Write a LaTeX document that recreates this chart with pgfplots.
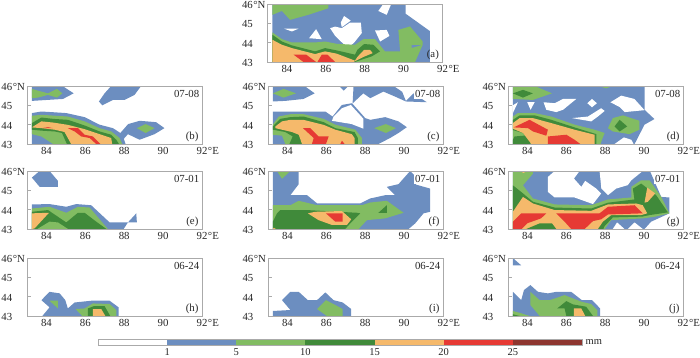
\documentclass[border=0pt]{standalone}
\usepackage{pgfplots}
\pgfplotsset{compat=1.18}
\usepackage{fontspec}
\setmainfont{Liberation Serif}
\definecolor{cB}{RGB}{108,142,192}
\definecolor{cG}{RGB}{130,188,98}
\definecolor{cD}{RGB}{64,138,58}
\definecolor{cO}{RGB}{245,185,107}
\definecolor{cR}{RGB}{230,58,52}
\definecolor{cM}{RGB}{142,54,48}
\definecolor{cF}{RGB}{170,170,170}
\newcommand\poly[2]{\addplot[fill=#1,draw=none,forget plot] coordinates {#2} --cycle;}
\newcommand\dlabel[2]{%
  \node[anchor=east,fill=white,inner sep=0.8pt,font=\fontsize{10.8}{12}\selectfont,text=black!85] at (rel axis cs:0.99,0.86) {#1};
  \node[anchor=east,fill=white,inner sep=0.8pt,font=\fontsize{10.8}{12}\selectfont,text=black!85] at (rel axis cs:0.985,0.13) {#2};}
\pgfplotsset{panel/.style={
  scale only axis,width=175pt,height=58pt,anchor=south west,
  xmin=83,xmax=92,ymin=43,ymax=46,
  xtick={84,86,88,90,92},xticklabels={84,86,88,90,{92\rlap{\kern0.6pt °E}}},
  ytick={43,44,45,46},yticklabels={43,44,45,{46\rlap{\kern0.6pt °N}}},
  y tick style={cF,line width=0.6pt},x tick style={draw=none},tick align=inside,major tick length=3.5pt,
  axis line style={cF,line width=1pt},
  xtick pos=lower,ytick pos=left,axis on top,
  tick label style={font=\fontsize{10.8}{12}\selectfont,text=black!85},
  /pgf/number format/assume math mode=true,
  xticklabel style={inner sep=0pt,yshift=-3.5pt},
  yticklabel style={inner sep=0pt,anchor=east,xshift=-14.5pt,yshift=-1pt},
}}
\begin{document}
\begin{tikzpicture}
\path[use as bounding box] (0,0) rectangle (700pt,357pt);
% (a)
\begin{axis}[panel,at={(267.5pt,295pt)}]
\poly{cB}{(83.25,43)(83.25,46)(90.1,46)(90.1,45.5)(91.35,44.6)(91.35,43)}
\poly{white}{(88.7,45.64)(88.92,45.95)(89.34,45.95)(89.13,45.44)}
\poly{white}{(86.77,45.04)(86.94,45.38)(87.28,45.14)(86.82,44.8)}
\poly{white}{(86.22,44.75)(86.48,44.83)(86.82,44.75)(87.25,45.04)(87.8,45.04)(87.85,44.5)(87.5,44.06)(87.16,43.72)(86.73,44.1)(86.48,44.35)}
\poly{white}{(85.14,44.23)(85.5,44.7)(85.79,44.18)}
\poly{white}{(88.53,44.63)(89.13,44.66)(89.27,44.35)(88.79,44.06)}
\poly{white}{(83.87,44.72)(84.59,44.72)(84.25,44.58)}
\poly{cG}{(83.25,46)(86.13,46)(86.13,45.78)(85.1,45.44)(84.16,45.18)(83.74,45.64)(83.25,45.44)}
\poly{cG}{(83.25,44.53)(83.74,44.18)(84.25,44.01)(85.45,44.01)(85.96,44.06)(86.56,43.94)(87.5,43.89)(87.93,44.18)(88.53,44.18)(89.04,43.55)(89.82,43.55)(89.73,44.66)(90.33,44.84)(90.98,44.06)(90.98,43.89)(90.41,43.89)(90.41,43.72)(90.98,43.89)(90.59,43)(83.25,43)}
\poly{cD}{(83.25,44.41)(83.74,44.06)(84.25,43.86)(85.45,43.55)(85.96,43.72)(86.56,43.6)(87.5,43.38)(87.62,43.63)(87.97,43.93)(88.45,43.89)(88.79,43.55)(88.36,43.29)(87.93,43.15)(87.5,43)(83.25,43)}
\poly{cO}{(83.25,44.15)(83.74,43.89)(84.25,43.72)(85.45,43.41)(85.96,43.55)(86.56,43.43)(87.5,43.07)(87.62,43.26)(87.97,43.63)(88.27,43.63)(88.41,43.46)(87.93,43.26)(87.42,43)(83.25,43)}
\poly{cR}{(84.34,43.38)(84.99,43.38)(85.5,43)(84.85,43)}
\poly{cR}{(85.57,43)(85.79,43.38)(86.08,43.38)(86.48,43)}
\node[anchor=east,inner sep=0.8pt,font=\fontsize{10.8}{12}\selectfont,text=black!85] at (rel axis cs:0.985,0.13) {(a)};
\end{axis}
% (b)
\begin{axis}[panel,at={(27pt,213pt)}]
\poly{cB}{(83.25,46)(84.83,46)(85.4,45.62)(84.85,45.33)(83.25,45.23)}
\poly{cG}{(83.25,45.85)(83.56,45.76)(84.08,45.62)(84.54,45.85)(84.82,45.62)(84.54,45.4)(84.08,45.54)(83.56,45.4)(83.25,45.37)}
\poly{cB}{(87.33,46)(88.87,46)(88.53,45.54)(88.02,45.28)(87.42,45.28)(86.87,45)(86.7,45.2)(86.99,45.62)}
\poly{cB}{(83.25,44.6)(83.74,44.68)(84.25,44.65)(85.02,44.6)(85.96,44.39)(86.73,44)(87.42,43.82)(87.8,43.57)(88.2,44.03)(88.79,44.2)(89.64,44.13)(90.07,43.82)(89.56,43.51)(88.79,43.22)(88.19,43.51)(87.98,43.27)(88.07,43)(83.25,43)}
\poly{cG}{(88.65,43.82)(89.1,44.03)(89.56,43.82)(89.1,43.57)}
\poly{cG}{(83.25,44.46)(83.74,44.51)(84.34,44.47)(85.1,44.42)(85.96,44.17)(86.73,43.82)(87.33,43.65)(87.76,43.31)(87.9,43)(84.34,43)(83.74,43.39)(83.25,43.51)}
\poly{cD}{(83.25,44.08)(83.74,44.37)(84.34,44.3)(85.1,44.25)(85.96,43.96)(86.73,43.65)(87.33,43.48)(87.59,43.22)(87.73,43)(85.05,43)(84.8,43.57)(84.42,43.65)(83.74,43.69)(83.25,43.74)}
\poly{cO}{(83.25,43.86)(83.74,44.17)(84.34,44.11)(85.1,43.99)(85.96,43.77)(86.73,43.51)(87.33,43.31)(87.38,43)(85.27,43)(84.93,43.62)(84.42,43.74)(83.74,43.82)}
\poly{cR}{(83.77,43.82)(84.08,43.87)(84.34,43.82)}
\poly{cR}{(85.1,43.82)(85.62,43.82)(85.96,43.48)(86.39,43.39)(86.78,43)(86.56,43)(86.22,43.31)(85.79,43.39)(85.45,43.65)}
\dlabel{07-08}{(b)}
\end{axis}
% (c)
\begin{axis}[panel,at={(268pt,213pt)}]
\poly{cB}{(83.25,46)(84.88,46)(85.4,45.62)(84.83,45.33)(83.89,45.23)(83.25,45.2)}
\poly{cG}{(83.25,45.62)(83.8,45.85)(84.44,45.62)(83.8,45.4)}
\poly{cB}{(86.66,46)(87.14,46)(86.89,45.76)}
\poly{cB}{(87.4,46)(89.46,46)(89.9,45.7)(90.09,45.23)(90.48,45.62)(91.17,45.16)(90.09,45.2)(89.54,45.45)(88.94,45.71)(88.26,45.37)(87.9,45.62)(87.35,45.1)}
\poly{cB}{(83.25,44.68)(85.95,44.68)(86.32,44.42)(86.8,45.02)(87.32,45.11)(88,44.34)(88.26,44.25)(89.03,44.39)(89.71,44.17)(90.14,43.87)(89.71,43.57)(89.28,43.31)(88.68,43)(83.25,43)}
\poly{white}{(86.37,44.42)(86.8,44.85)(87.26,45.02)(87.91,44.3)(87.91,43.79)(87.31,44.03)(86.29,44.2)}
\poly{cG}{(88.46,43.82)(89.06,44.03)(89.58,43.82)(89.06,43.57)}
\poly{cG}{(83.25,44)(83.55,44.42)(84.15,44.54)(84.83,44.54)(85.86,44.3)(86.46,44)(87.49,43.74)(87.83,43.31)(87.83,43)(83.89,43)(83.72,43.43)(83.25,43.48)}
\poly{cD}{(83.25,43.91)(83.63,44.3)(84.15,44.39)(84.83,44.42)(85.86,44.13)(86.46,43.82)(87.45,43.62)(87.62,43.31)(87.62,43)(84.1,43)(84.27,43.39)(83.89,43.62)(83.25,43.74)}
\poly{cO}{(83.38,43.91)(83.72,44.17)(84.15,44.25)(84.83,44.25)(85.86,43.99)(86.46,43.74)(87.31,43.51)(87.45,43.31)(87.45,43)(84.75,43)(84.58,43.48)(84.23,43.62)(83.38,43.82)}
\poly{cR}{(84.8,43.82)(85.17,43.82)(85.6,43.39)(86.12,43.39)(85.98,43)(85.26,43)(85.35,43.31)}
\poly{cR}{(86.72,43)(86.8,43.17)(86.94,43)}
\dlabel{07-08}{(c)}
\end{axis}
% (d)
\begin{axis}[panel,at={(508pt,213pt)}]
\poly{cB}{(83.25,46)(90.02,46)(90.02,44.77)(90.53,44.29)(90.02,44)(89.51,43)(83.25,43)}
\poly{white}{(88.48,43)(88.96,43.34)(89.34,43.22)(89.46,43)}
\poly{white}{(83.25,45)(83.51,45.16)(83.25,44.6)}
\poly{white}{(83.99,45.16)(84.37,45.16)(84.16,44.77)}
\poly{white}{(84.83,45.16)(85.4,45.11)(85.83,45.33)(86.51,45.33)(85.83,44.77)(85.48,44.65)(84.97,44.77)}
\poly{white}{(87.08,45.11)(87.32,45.33)(87.57,45.11)(87.32,44.9)}
\poly{white}{(88.27,45.16)(88.82,45.5)(89.5,45.33)(90.02,44.75)(89,44.65)(88.76,44.9)}
\poly{white}{(86.29,44.34)(87.11,44.42)(87.79,44.85)(87.97,44.71)(87.62,44.42)(87.28,44.17)}
\poly{cG}{(87.62,46)(88.39,46)(88.05,45.88)}
\poly{cG}{(83.25,46)(84.37,46)(85.26,45.62)(84.28,45.28)(83.51,45.32)(83.25,45.33)}
\poly{cD}{(83.25,45.62)(83.77,45.8)(84.28,45.62)(83.77,45.4)}
\poly{cG}{(88.14,43.82)(88.39,44.34)(88.91,44.48)(89.76,44.2)(89.76,43.74)(89.25,43.51)(88.39,43.65)}
\poly{cD}{(88.48,43.91)(88.74,44.25)(89.13,43.91)(88.74,43.65)}
\poly{cG}{(83.25,44.42)(83.51,44.6)(84.37,44.6)(85.23,44.42)(86.42,44)(87.45,43.74)(87.97,43.57)(87.83,43.22)(87.76,43)(83.25,43)}
\poly{cD}{(83.25,44.25)(83.6,44.48)(84.37,44.48)(85.23,44.25)(86.42,43.86)(87.54,43.51)(87.54,43)(84.2,43)(83.77,43.57)(83.25,43.72)}
\poly{cD}{(83.34,43.39)(84.03,43.45)(84.16,43)(83.25,43)(83.25,43.22)}
\poly{cO}{(83.25,44.08)(83.6,44.34)(84.28,44.34)(85.23,44.08)(86.42,43.74)(87.45,43.48)(87.45,43)(84.2,43)(83.77,43.57)(83.25,43.79)}
\poly{cR}{(83.29,43.86)(84.11,44.25)(85.05,43.74)(84.97,43.43)(84.28,43.65)(84.03,43.82)}
\poly{cR}{(85.05,43)(85.05,43.39)(86,43.48)(86.42,43.22)(86.72,43)}
\dlabel{07-08}{(d)}
\end{axis}
% (e)
\begin{axis}[panel,at={(27pt,128pt)}]
\poly{cB}{(83.25,45.66)(83.65,46)(84.16,46)(84.59,45.49)(84.59,45.18)(83.65,45.18)}
\poly{cB}{(83.25,44.27)(84.16,44.29)(85.02,44.15)(85.53,44.29)(86.3,44.23)(87.25,43.34)(88.19,43.34)(88.62,43.81)(88.65,43.34)(88.19,43.34)(87.97,43)(83.25,43)}
\poly{cG}{(83.25,44.06)(84.16,44.15)(85.02,43.84)(85.62,44.15)(86.22,44.11)(87.16,43)(83.25,43)}
\poly{cD}{(83.25,43.89)(84.08,43.98)(85.02,43.34)(85.62,43.84)(85.96,43.84)(86.56,43.38)(87.08,43)(83.25,43)}
\poly{cO}{(83.25,43.81)(84.13,43.84)(83.39,43.03)(83.25,43)}
\poly{cG}{(83.53,43)(84.16,43.38)(84.59,43.34)(85.11,43)}
\dlabel{07-01}{(e)}
\end{axis}
% (f)
\begin{axis}[panel,at={(268pt,128pt)}]
\poly{cB}{(83.25,46)(84.58,46)(84.58,45.32)(84.15,44.75)(85.01,44.75)(85.53,44.32)(87.74,44.32)(88.26,44.58)(89.03,44.75)(89.54,44.75)(89.11,45.18)(89.71,45.32)(90.31,46)(90.6,45.7)(90.6,45.3)(91.34,45.09)(91.34,43.89)(91,43.81)(90.57,43.29)(90.23,43)(83.25,43)}
\poly{cG}{(83.46,46)(84.15,46)(83.72,45.6)}
\poly{cG}{(83.25,44.23)(84.15,44.23)(84.58,44.46)(85.52,44.23)(87.83,44.23)(88.26,44.37)(89.11,44.46)(89.97,43.84)(89.03,43.55)(88.51,43.5)(88.09,43.46)(87.66,43)(83.25,43)}
\poly{cD}{(83.63,43.98)(85,43.98)(87.57,43.84)(87.74,43.81)(87.23,43.29)(86.97,43)(83.25,43)(83.25,43.38)(83.46,43.81)}
\poly{cD}{(88.68,43.84)(89.11,44.23)(89.11,43.84)}
\poly{cO}{(85.05,43.81)(85.43,43.89)(86.8,43.93)(87.28,43.5)(87.06,43.21)(86.29,43.21)(85.6,43.46)}
\poly{cR}{(85.98,43.81)(86.84,43.81)(86.84,43.38)(86.46,43.38)}
\poly{cO}{(83.25,43)(83.3,43.07)(83.4,43)}
\dlabel{07-01}{(f)}
\end{axis}
% (g)
\begin{axis}[panel,at={(508pt,128pt)}]
\poly{cB}{(83.25,46)(90.3,46)(90.88,44.66)(91.3,44.63)(91.3,43.81)(90.36,43.38)(90.02,43)(83.25,43)}
\poly{white}{(85.4,46)(86.68,46)(86.39,45.61)(86.77,45.18)(86.97,45.49)(87.54,45.09)(87.79,44.84)(87.37,44.29)(86.42,44.63)(85.4,44.63)(85.05,44.92)(85.05,45.69)}
\poly{white}{(87.71,46)(89.93,46)(89.34,45.52)(89.16,45.27)(88.56,45.09)(88.14,44.75)(87.8,45.09)}
\poly{white}{(88.39,43)(88.61,43.34)(88.99,43)}
\poly{white}{(89.16,43)(89.51,43.34)(89.93,43)}
\poly{cG}{(83.25,46)(84.28,46)(84.28,45.86)(83.77,45.26)(84.28,44.58)(85.4,44.27)(87.28,44.23)(88.14,44.53)(89.34,44.63)(89.34,45.18)(89.85,45.52)(90.28,45.52)(90.88,44.66)(91.3,43.81)(90.53,43.63)(89.93,43.55)(88.31,43.46)(87.97,43)(83.25,43)}
\poly{cD}{(83.25,45.26)(83.77,44.84)(84.28,44.41)(85.4,44.11)(87.28,44.06)(88.14,44.36)(89.5,44.53)(89.42,45.09)(89.85,45.35)(90.62,44.75)(91.22,43.86)(90.28,43.72)(89.9,43.64)(88.39,43.6)(87.97,43.15)(87.9,43)(83.25,43)}
\poly{cO}{(83.25,43.89)(83.77,44.66)(84.28,44.32)(85.4,43.98)(87.28,43.94)(88.14,44.27)(89.59,44.32)(89.93,44.23)(90.16,43.81)(89.85,43.72)(88.31,43.72)(87.88,43.38)(87.62,43)(83.25,43)}
\poly{cO}{(90.02,44.36)(90.16,45.14)(90.57,44.84)(90.19,44.41)}
\poly{cO}{(83.6,46)(84,46)(83.8,45.9)}
\poly{cD}{(83.94,43)(84.63,43.29)(85.26,43.29)(85.48,43)}
\poly{cR}{(83.25,43)(83.25,43.38)(83.68,43.81)(84.97,43.81)(84.7,43.55)(84,43.3)(83.7,43)}
\poly{cR}{(85.48,43.81)(87.71,43.81)(88.14,44.15)(89.51,44.23)(89.93,43.81)(88.14,43.75)(87.79,43.5)(87.37,43.41)(86.94,43)(86.25,43)(85.91,43.38)}
\dlabel{07-01}{(g)}
\end{axis}
% (h)
\begin{axis}[panel,at={(27pt,41pt)}]
\poly{cB}{(83.74,43.82)(84.16,44.25)(84.68,44.17)(84.97,43.82)(85.1,43.39)(85.45,43.7)(86.3,43.79)(87.25,43.79)(87.71,43.45)(87.71,43)(83.79,43)(84.16,43.45)}
\poly{cG}{(84.16,43.79)(84.59,43.79)(84.59,43.39)}
\poly{cG}{(85.5,43.36)(85.96,43.39)(86.39,43.65)(87.25,43.62)(87.59,43.31)(87.59,43)(85.84,43)}
\poly{cD}{(86.13,43)(86.13,43.39)(86.44,43.51)(86.99,43.51)(87.28,43)}
\poly{cO}{(86.39,43)(86.39,43.36)(86.82,43.36)(87.03,43)}
\dlabel{06-24}{(h)}
\end{axis}
% (i)
\begin{axis}[panel,at={(268pt,41pt)}]
\poly{cB}{(83.25,43)(83.25,43.26)(84.15,43.31)(83.72,43.82)(84.15,44.25)(84.58,44.25)(85.05,43.82)(85.52,43.82)(85.95,44.22)(86.37,43.82)(86.84,43.7)(87.28,43.36)(87.28,43)}
\poly{cG}{(85.52,43.36)(85.98,43.82)(86.46,43.57)(86.84,43.36)(86.84,43)(86.03,43)}
\dlabel{06-24}{(i)}
\end{axis}
% (j)
\begin{axis}[panel,at={(508pt,41pt)}]
\poly{cB}{(83.25,46)(83.68,45.62)(83.25,45.62)}
\poly{cB}{(83.25,44.25)(83.68,43.82)(83.82,44.34)(84.15,44.6)(84.54,44.25)(85.05,44.17)(85.48,44.25)(86.25,44.25)(86.8,43.82)(87.32,43.82)(87.74,43.39)(87.74,43)(83.25,43)}
\poly{cG}{(84.15,44.25)(84.63,43.82)(85.14,43.82)(85.91,44.08)(86.77,43.74)(87.28,43.62)(87.59,43.31)(87.59,43)(84.63,43)(84.15,43.57)}
\poly{cG}{(83.25,43.26)(83.68,43.14)(84.11,43)(83.25,43)}
\poly{cD}{(83.25,43.09)(83.6,43)(83.25,43)}
\poly{cD}{(85.53,43.39)(86,43.77)(86.34,43.6)(87.02,43.48)(87.37,43)(86,43)(85.91,43.39)}
\poly{cO}{(86.39,43.39)(86.77,43.39)(86.97,43)(86.39,43)}
\dlabel{06-24}{(j)}
\end{axis}
% colour bar
\begin{axis}[scale only axis,width=484pt,height=6pt,anchor=south west,at={(98pt,12pt)},
  xmin=0,xmax=7,ymin=0,ymax=1,ytick=\empty,
  xtick={1,2,3,4,5,6},xticklabels={1,5,10,15,20,25},major tick length=0pt,
  axis line style={cF,line width=0.8pt},axis on top,
  tick label style={font=\fontsize{10.5}{12}\selectfont,text=black!85},
  /pgf/number format/assume math mode=true,
  xticklabel style={inner sep=0pt,yshift=-3pt},clip=false]
\poly{white}{(0,0)(1,0)(1,1)(0,1)}
\poly{cB}{(1,0)(2,0)(2,1)(1,1)}
\poly{cG}{(2,0)(3,0)(3,1)(2,1)}
\poly{cD}{(3,0)(4,0)(4,1)(3,1)}
\poly{cO}{(4,0)(5,0)(5,1)(4,1)}
\poly{cR}{(5,0)(6,0)(6,1)(5,1)}
\poly{cM}{(6,0)(7,0)(7,1)(6,1)}
\node[anchor=west,inner sep=0pt,font=\fontsize{10.5}{12}\selectfont,text=black!85] at (axis cs:7.05,0.5) {mm};
\end{axis}
\end{tikzpicture}
\end{document}
